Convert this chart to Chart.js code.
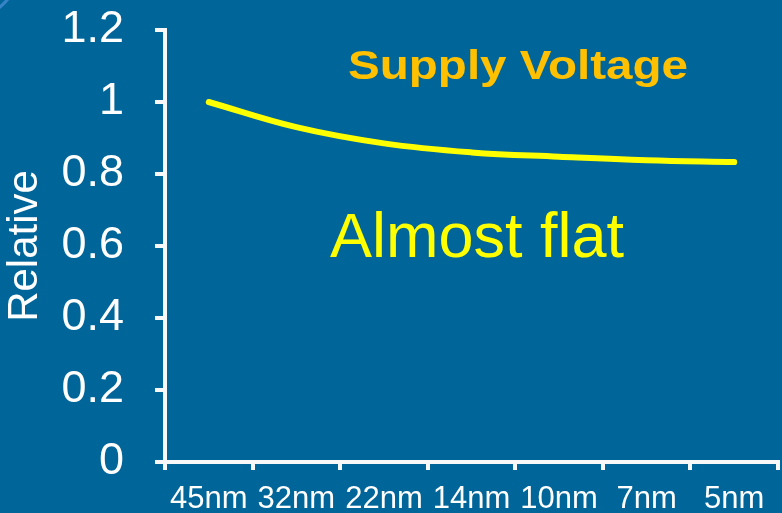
<!DOCTYPE html>
<html>
<head>
<meta charset="utf-8">
<script src="https://cdn.jsdelivr.net/npm/chart.js@4.4.0/dist/chart.umd.min.js"></script>
<style>
  html, body { margin: 0; padding: 0; background: #006699; }
  #wrap { width: 782px; height: 513px; }
</style>
</head>
<body>
<div id="wrap"><canvas id="VoltageChart"></canvas></div>
<script>
// nodes on the x axis
const Nodes = ['45nm', '32nm', '22nm', '14nm', '10nm', '7nm', '5nm'];

// relative supply voltage
const Voltage = [1.0, 0.93, 0.885, 0.86, 0.848, 0.838, 0.833];

// y axis ticks
const YTicks = [0, 0.2, 0.4, 0.6, 0.8, 1, 1.2];

const FONT = "'Liberation Sans', Arial, sans-serif";

//background + the light stripe in the corner
const bgPlugin = {
  id: 'bg',
  beforeDraw(chart) {
    const ctx = chart.ctx;
    ctx.save();
    ctx.fillStyle = '#006699';
    ctx.fillRect(0, 0, chart.width, chart.height);
    ctx.strokeStyle = 'rgba(70,140,210,0.8)';
    ctx.lineWidth = 3;
    ctx.beginPath();
    ctx.arc(-60, -60, 90, 0, Math.PI / 2);
    ctx.stroke();
    ctx.restore();
  }
};

// the two text notes on the plot
const notesPlugin = {
  id: 'notes',
  afterDraw(chart) {
    const ctx = chart.ctx;
    ctx.save();
    ctx.textAlign = 'center';
    ctx.textBaseline = 'middle';
    ctx.fillStyle = '#FFC000';
    ctx.font = 'bold 41px ' + FONT;
    // title in the slide is a bit wider than the font
    ctx.translate(518, 68);
    ctx.scale(1.16, 1);
    ctx.fillText('Supply Voltage', 0, 0);
    ctx.setTransform(1, 0, 0, 1, 0, 0);
    ctx.fillStyle = '#FFFF00';
    ctx.font = '63px ' + FONT;
    ctx.fillText('Almost flat', 477, 240);
    ctx.restore();
  }
};

//Data
const VoltageData = {
  labels: Nodes,
  datasets: [{
    label: 'Supply Voltage',
    data: Voltage,
    borderColor: '#FFFF00',
    borderWidth: 6,
    borderCapStyle: 'round',
    pointRadius: 0,
    tension: 0.4,
    fill: false
  }]
};

//config
const VoltageConfig = {
  type: 'line',
  data: VoltageData,
  plugins: [bgPlugin, notesPlugin],
  options: {
    responsive: true,
    maintainAspectRatio: false,
    animation: false,
    layout: { padding: { left: 0, top: 30, right: 4, bottom: 0 } },
    plugins: { legend: { display: false }, tooltip: { enabled: false } },
    scales: {
      x: {
        offset: true,
        grid: {
          offset: true,
          drawOnChartArea: false,
          drawTicks: true,
          tickLength: 8,
          color: '#F8F8F8',
          lineWidth: 4
        },
        border: { display: true, color: '#F8F8F8', width: 4 },
        ticks: {
          color: '#FFFFFF',
          font: { family: FONT, size: 31 },
          padding: 11,
          maxRotation: 0,
          autoSkip: false
        },
        afterFit(scale) { scale.height = 51; }
      },
      y: {
        min: 0,
        max: 1.2,
        afterBuildTicks(scale) { scale.ticks = YTicks.map(v => ({ value: v })); },
        grid: {
          drawOnChartArea: false,
          drawTicks: true,
          tickLength: 10,
          color: '#F8F8F8',
          lineWidth: 4
        },
        border: { display: true, color: '#F8F8F8', width: 4 },
        ticks: {
          color: '#FFFFFF',
          font: { family: FONT, size: 45 },
          padding: 31,
          callback: v => String(Math.round(v * 10) / 10)
        },
        title: {
          display: true,
          text: 'Relative',
          color: '#FFFFFF',
          font: { family: FONT, size: 42 },
          padding: 0
        },
        afterFit(scale) {
          scale.width = 165;
          scale.paddingTop = 0;
          scale.paddingBottom = 0;
        }
      }
    }
  }
};

//View
const VoltageChart = new Chart(
  document.getElementById('VoltageChart'),
  VoltageConfig
);
</script>
</body>
</html>
